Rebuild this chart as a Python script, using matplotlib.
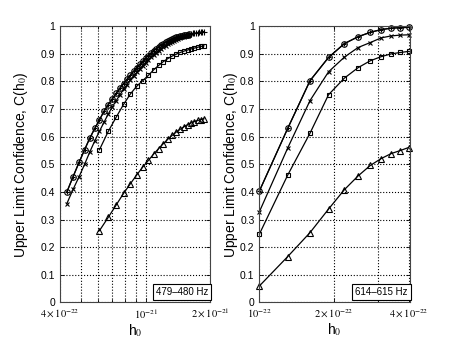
import matplotlib
matplotlib.use("Agg")
import matplotlib.pyplot as plt
from matplotlib.ticker import FixedLocator, FixedFormatter, NullFormatter

plt.rcParams['font.family'] = ['Liberation Sans', 'DejaVu Sans']
plt.rcParams['mathtext.fontset'] = 'stix'

# ---- left panel: 479-480 Hz (h0 in units of 1e-22) ----
h_fine_L = [4.3, 4.6, 4.9, 5.2, 5.5, 5.8, 6.1, 6.4, 6.7, 7.0,
            7.3, 7.6, 7.9, 8.2, 8.5, 8.8, 9.1, 9.4, 9.7, 10.0,
            10.3, 10.6, 10.9, 11.2, 11.5, 11.8, 12.1, 12.4, 12.7, 13.0,
            13.3, 13.6, 13.9, 14.2, 14.5, 14.8, 15.1, 15.4, 15.7, 16.0]
circ_L = [0.400, 0.456, 0.507, 0.553, 0.595, 0.630, 0.661, 0.692, 0.716, 0.737,
          0.757, 0.776, 0.792, 0.808, 0.823, 0.837, 0.850, 0.862, 0.873, 0.884,
          0.894, 0.903, 0.911, 0.918, 0.925, 0.931, 0.937, 0.942, 0.946, 0.950,
          0.954, 0.957, 0.960, 0.962, 0.964, 0.966, 0.968, 0.969, 0.970, 0.971]
cross_L = [0.358, 0.410, 0.455, 0.500, 0.545, 0.585, 0.620, 0.652, 0.682, 0.708,
           0.731, 0.752, 0.772, 0.789, 0.805, 0.820, 0.833, 0.846, 0.857, 0.868,
           0.878, 0.887, 0.896, 0.904, 0.911, 0.918, 0.924, 0.930, 0.935, 0.940,
           0.944, 0.948, 0.952, 0.955, 0.958, 0.960, 0.962, 0.964, 0.966, 0.968]
h_plus_L = [16.3, 16.6, 16.9, 17.2, 17.5, 17.8, 18.1, 18.4, 18.7]
plus_L = [0.973, 0.974, 0.975, 0.976, 0.977, 0.978, 0.979, 0.980, 0.981]
h_coarse_L = [6.1, 6.7, 7.3, 7.9, 8.5, 9.1, 9.7, 10.3, 10.9, 11.5, 12.1,
              12.7, 13.3, 13.9, 14.5, 15.1, 15.7, 16.3, 16.9, 17.5, 18.1, 18.7]
sq_L = [0.553, 0.619, 0.671, 0.717, 0.755, 0.783, 0.803, 0.822, 0.842, 0.858, 0.872,
        0.883, 0.892, 0.899, 0.905, 0.910, 0.914, 0.918, 0.921, 0.924, 0.927, 0.929]
tri_L = [0.260, 0.308, 0.353, 0.395, 0.430, 0.462, 0.490, 0.514, 0.537, 0.557, 0.575,
         0.591, 0.605, 0.617, 0.627, 0.636, 0.644, 0.650, 0.655, 0.659, 0.662, 0.665]

# ---- right panel: 614-615 Hz ----
h_R = [1.0, 1.3, 1.6, 1.9, 2.2, 2.5, 2.8, 3.1, 3.4, 3.7, 4.0]
circ_R = [0.404, 0.630, 0.803, 0.887, 0.937, 0.962, 0.978, 0.988, 0.993, 0.995, 0.996]
cross_R = [0.329, 0.559, 0.731, 0.835, 0.888, 0.923, 0.941, 0.958, 0.965, 0.968, 0.969]
sq_R = [0.248, 0.461, 0.613, 0.752, 0.812, 0.850, 0.875, 0.890, 0.900, 0.905, 0.909]
tri_R = [0.060, 0.166, 0.253, 0.338, 0.408, 0.458, 0.496, 0.521, 0.539, 0.550, 0.561]

yticks = [0, 0.1, 0.2, 0.3, 0.4, 0.5, 0.6, 0.7, 0.8, 0.9, 1]
ytick_labels = ['0', '0.1', '0.2', '0.3', '0.4', '0.5', '0.6', '0.7', '0.8', '0.9', '1']


def s(vals):
    return [v * 1e-22 for v in vals]


def curve(ax, h, c, marker, ms=4):
    ax.plot(s(h), c, '-', color='k', lw=0.9, marker=marker, ms=ms,
            mfc='none', mec='k', mew=0.8, clip_on=False)


fig = plt.figure(figsize=(4.52, 3.41), dpi=100)
axL = fig.add_axes([0.133, 0.113, 0.332, 0.810])
axR = fig.add_axes([0.574, 0.113, 0.333, 0.810])

curve(axL, h_fine_L, circ_L, 'o', ms=4)
curve(axL, h_fine_L, circ_L, '+', ms=3.5)
curve(axL, h_plus_L, plus_L, '+', ms=4)
curve(axL, h_fine_L, cross_L, 'x', ms=3.5)
curve(axL, h_coarse_L, sq_L, 's', ms=3.5)
curve(axL, h_coarse_L, tri_L, '^', ms=4.5)

curve(axR, h_R, circ_R, 'o', ms=4)
curve(axR, h_R, circ_R, '+', ms=3.5)
curve(axR, h_R, cross_R, 'x', ms=3.5)
curve(axR, h_R, sq_R, 's', ms=3.5)
curve(axR, h_R, tri_R, '^', ms=4.5)

for ax in (axL, axR):
    ax.set_xscale('log')
    ax.set_ylim(0, 1)
    ax.set_yticks(yticks)
    ax.set_yticklabels(ytick_labels)
    ax.tick_params(which='both', direction='in', labelsize=7.5, length=3,
                   top=True, right=True, width=0.6)
    ax.tick_params(which='minor', length=2)
    ax.grid(True, axis='y', which='major', ls=':', color='k', lw=0.8)
    ax.set_ylabel('Upper Limit Confidence, C(h$_0$)', fontsize=10)
    ax.set_xlabel('h$_0$', fontsize=10, labelpad=1)
    for sp in ax.spines.values():
        sp.set_linewidth(0.8)
        sp.set_color('#444444')

axL.yaxis.set_label_coords(-0.2, 0.5)
axR.yaxis.set_label_coords(-0.128, 0.5)

axL.set_xlim(4e-22, 2e-21)
axL.xaxis.set_major_locator(FixedLocator([4e-22, 1e-21, 2e-21]))
axL.xaxis.set_major_formatter(FixedFormatter([r'$4\times10^{-22}$', r'$10^{-21}$',
                                              r'$2\times10^{-21}$']))
axL.xaxis.set_minor_locator(FixedLocator([5e-22, 6e-22, 7e-22, 8e-22, 9e-22]))
axL.xaxis.set_minor_formatter(NullFormatter())
axL.grid(True, axis='x', which='both', ls=':', color='k', lw=0.8)

axR.set_xlim(1e-22, 4.05e-22)
axR.xaxis.set_major_locator(FixedLocator([1e-22, 2e-22, 4e-22]))
axR.xaxis.set_major_formatter(FixedFormatter([r'$10^{-22}$', r'$2\times10^{-22}$',
                                              r'$4\times10^{-22}$']))
axR.xaxis.set_minor_locator(FixedLocator([3e-22]))
axR.xaxis.set_minor_formatter(NullFormatter())
axR.grid(True, axis='x', which='both', ls=':', color='k', lw=0.8)

for ax, label in ((axL, '479\u2013480 Hz'), (axR, '614\u2013615 Hz')):
    ax.text(0.985, 0.02, label, transform=ax.transAxes, ha='right', va='bottom',
            fontsize=7, bbox=dict(boxstyle='square,pad=0.3', fc='white', ec='k', lw=0.8))

fig.savefig('out.png', dpi=100)
